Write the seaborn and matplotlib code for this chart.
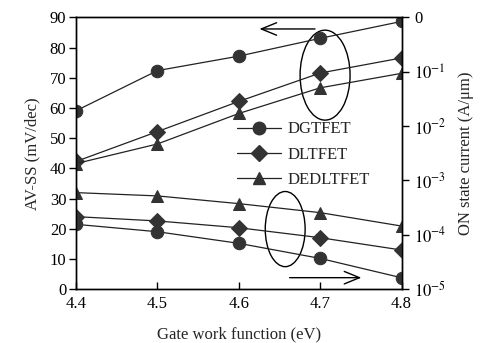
import matplotlib
matplotlib.use("Agg")
import matplotlib.pyplot as plt
import seaborn as sns
import pandas as pd
from matplotlib.patches import Ellipse
from matplotlib.lines import Line2D

sns.set_style("ticks")
plt.rcParams['font.family'] = ['Liberation Serif', 'DejaVu Serif']
plt.rcParams['mathtext.fontset'] = 'stix'

gate_wf = [4.4, 4.5, 4.6, 4.7, 4.8]
series = ["DGTFET", "DLTFET", "DEDLTFET"]
# AV-SS (mV/dec), left axis
ss_dgtfet = [59.1, 72.4, 77.2, 83.1, 88.7]
ss_dltfet = [42.3, 52.2, 62.2, 71.6, 76.6]
ss_dedltfet = [41.6, 48.1, 58.2, 66.7, 71.5]
# ON state current (A/um), right axis
ion_dgtfet = [1.56e-4, 1.14e-4, 6.97e-5, 3.68e-5, 1.62e-5]
ion_dltfet = [2.16e-4, 1.80e-4, 1.35e-4, 8.85e-5, 5.25e-5]
ion_dedltfet = [5.98e-4, 5.20e-4, 3.75e-4, 2.56e-4, 1.45e-4]
right_ticks = [1e0, 1e-1, 1e-2, 1e-3, 1e-4, 1e-5]
right_labels = ["0", "$10^{-1}$", "$10^{-2}$", "$10^{-3}$", "$10^{-4}$", "$10^{-5}$"]

markers = {"DGTFET": "o", "DLTFET": "D", "DEDLTFET": "^"}
msizes = {"DGTFET": 9, "DLTFET": 8, "DEDLTFET": 9}
mcol = "#333333"
lcol = "#222222"

fig = plt.figure(figsize=(4.97, 3.43), dpi=100)
ax = fig.add_axes([0.153, 0.157, 0.655, 0.792])
ax2 = ax.twinx()

ss_vals = {"DGTFET": ss_dgtfet, "DLTFET": ss_dltfet, "DEDLTFET": ss_dedltfet}
ion_vals = {"DGTFET": ion_dgtfet, "DLTFET": ion_dltfet, "DEDLTFET": ion_dedltfet}

for s in series:
    df = pd.DataFrame({"x": gate_wf, "y": ss_vals[s]})
    sns.lineplot(data=df, x="x", y="y", ax=ax, color=lcol, lw=0.9,
                 marker=markers[s], markersize=msizes[s], markerfacecolor=mcol,
                 markeredgecolor=mcol, legend=False)
    df2 = pd.DataFrame({"x": gate_wf, "y": ion_vals[s]})
    sns.lineplot(data=df2, x="x", y="y", ax=ax2, color=lcol, lw=0.9,
                 marker=markers[s], markersize=msizes[s], markerfacecolor=mcol,
                 markeredgecolor=mcol, legend=False)

ax.set_xlim(4.4, 4.8)
ax.set_ylim(0, 90)
ax.set_xticks(gate_wf)
ax.set_xticklabels([f"{v:.1f}" for v in gate_wf])
ax.set_yticks(range(0, 91, 10))
ax2.set_yscale("log")
ax2.set_ylim(1e-5, 1e0)
ax2.set_yticks(right_ticks)
ax2.set_yticklabels(right_labels)
ax2.minorticks_off()

for a in (ax, ax2):
    for sp in a.spines.values():
        sp.set_visible(True)
        sp.set_color("black")
        sp.set_linewidth(1.0)
    a.tick_params(labelsize=12, colors="black", length=5, width=1)
ax.tick_params(axis="x", direction="in", pad=5)
ax.tick_params(axis="y", direction="out", pad=2)
ax2.tick_params(axis="y", direction="out", pad=4)

ax.set_xlabel("Gate work function (eV)", fontsize=12, labelpad=10)
ax.set_ylabel("AV-SS (mV/dec)", fontsize=12, labelpad=7)
ax2.set_ylabel("ON state current (A/μm)", fontsize=12, labelpad=8)

# ellipses & arrows
ax.add_patch(Ellipse((4.706, 70.9), 0.0614, 29.8, fill=False, ec="black", lw=1.0))
ax.add_patch(Ellipse((4.657, 19.9), 0.049, 24.9, fill=False, ec="black", lw=1.0))
arrow_style = "->,head_length=1.1,head_width=0.45"
ax.annotate("", xy=(4.622, 86.2), xytext=(4.697, 86.2),
            arrowprops=dict(arrowstyle=arrow_style, color="black", lw=1.0))
ax.annotate("", xy=(4.754, 3.8), xytext=(4.659, 3.8),
            arrowprops=dict(arrowstyle=arrow_style, color="black", lw=1.0))

handles = [Line2D([], [], color=lcol, lw=0.9, marker=markers[s], markersize=msizes[s],
                  markerfacecolor=mcol, markeredgecolor=mcol) for s in series]
ax.legend(handles, series, loc="upper left", bbox_to_anchor=(0.47, 0.648), frameon=False,
          fontsize=12, handlelength=2.6, handletextpad=0.4, labelspacing=0.55, borderpad=0)

fig.savefig("out.png", dpi=100)
